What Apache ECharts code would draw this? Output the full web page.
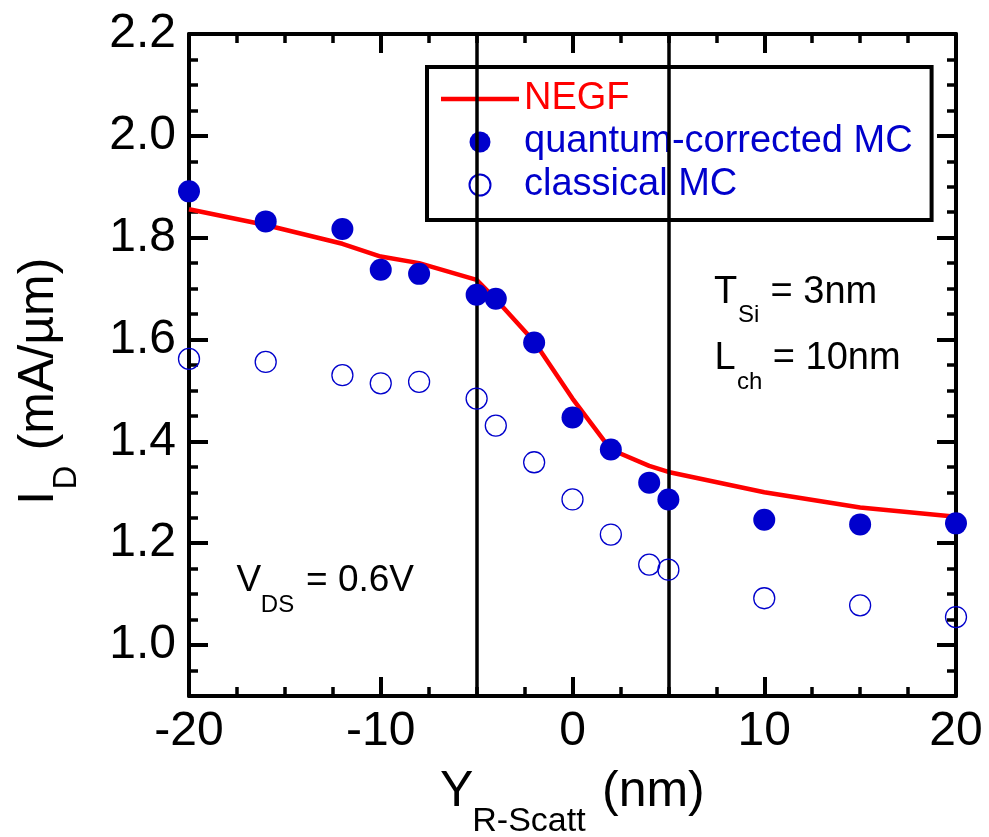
<!DOCTYPE html>
<html>
<head>
<meta charset="utf-8">
<script src="https://cdn.jsdelivr.net/npm/echarts@6/dist/echarts.min.js"></script>
<style>
html,body{margin:0;padding:0;background:#fff;}
#chart{width:989px;height:837px;}
</style>
</head>
<body>
<div id="chart"></div>
<script>
// ---- data ----
var xNegf = [-20, -16, -12, -10, -8, -5, -4, -2, 0, 2, 4, 5, 10, 15, 20];
var negf = [1.856, 1.825, 1.788, 1.763, 1.750, 1.717, 1.679, 1.596, 1.484, 1.384, 1.352, 1.340, 1.300, 1.270, 1.252];
var xMC = [-20, -16, -12, -10, -8, -5, -4, -2, 0, 2, 4, 5, 10, 15, 20];
var quantumMC = [1.891, 1.832, 1.817, 1.737, 1.729, 1.688, 1.680, 1.594, 1.447, 1.384, 1.319, 1.286, 1.246, 1.237, 1.239];
var classicalMC = [1.562, 1.556, 1.530, 1.514, 1.517, 1.484, 1.431, 1.359, 1.286, 1.217, 1.158, 1.148, 1.092, 1.078, 1.055];
var yMajorTicks = [1.0, 1.2, 1.4, 1.6, 1.8, 2.0, 2.2];
var vLines = [-5, 5];
var seriesNames = ['NEGF', 'quantum-corrected MC', 'classical MC'];

function pairs(xs, ys) { return xs.map(function (x, i) { return [x, ys[i]]; }); }

var FONT = "'Liberation Sans', Arial, Helvetica, sans-serif";
var BLUE = '#0000CC';
var RED = '#FF0000';

var chart = echarts.init(document.getElementById('chart'), null, {renderer: 'canvas'});

function yMajor(pos, showLabel) {
  return {
    type: 'value', position: pos, min: 0.9, max: 2.2,
    axisLine: {show: true, onZero: false, lineStyle: {color: '#000', width: 4}},
    axisTick: {show: true, inside: true, length: 19, lineStyle: {color: '#000', width: 4}, customValues: yMajorTicks},
    axisLabel: {show: showLabel, customValues: yMajorTicks, margin: 13, fontSize: 48, color: '#000', fontFamily: FONT,
      padding: [0, 0, 10, 0],
      formatter: function (v) { return v.toFixed(1); }},
    splitLine: {show: false}
  };
}
function yMinor(pos) {
  return {
    type: 'value', position: pos, min: 0.9, max: 2.2, interval: 0.05,
    axisLine: {show: false, onZero: false},
    axisTick: {show: true, inside: true, length: 9, lineStyle: {color: '#000', width: 3.5}},
    axisLabel: {show: false},
    splitLine: {show: false}
  };
}
function xAx(pos, showLabel) {
  return {
    type: 'value', position: pos, min: -20, max: 20, interval: 10,
    axisLine: {show: true, onZero: false, lineStyle: {color: '#000', width: 4}},
    axisTick: {show: true, inside: true, length: 19, lineStyle: {color: '#000', width: 4}},
    minorTick: {show: true, splitNumber: 4, length: 9, lineStyle: {color: '#000', width: 3.5}},
    axisLabel: {show: showLabel, margin: 12, fontSize: 48, color: '#000', fontFamily: FONT},
    splitLine: {show: false}, minorSplitLine: {show: false}
  };
}

function txt(x, y, s, size, extra) {
  var o = {type: 'text', x: x, y: y, silent: true,
    style: {text: s, fontSize: size, fontFamily: FONT, fill: '#000', align: 'left', verticalAlign: 'middle'}};
  if (extra) for (var k in extra) o[k] = extra[k];
  return o;
}

var option = {
  animation: false,
  backgroundColor: '#fff',
  grid: {left: 189, right: 33, top: 34, bottom: 141, containLabel: false},
  xAxis: [xAx('bottom', true), xAx('top', false)],
  yAxis: [yMajor('left', true), yMinor('left'), yMajor('right', false), yMinor('right')],
  legend: {
    orient: 'vertical', left: 427, top: 67,
    itemWidth: 78, itemHeight: 21, itemGap: 5,
    padding: [13, 19, 16, 14],
    borderColor: '#000', borderWidth: 4, backgroundColor: '#fff',
    textStyle: {fontSize: 38, lineHeight: 38, fontFamily: FONT},
    data: [
      {name: seriesNames[0], icon: 'path://M0 0H100V6H0Z', textStyle: {color: RED}},
      {name: seriesNames[1], textStyle: {color: BLUE}},
      {name: seriesNames[2], textStyle: {color: BLUE}}
    ]
  },
  series: [
    {
      name: seriesNames[0], type: 'line', data: pairs(xNegf, negf),
      symbol: 'none', lineStyle: {color: RED, width: 4.5}, itemStyle: {color: RED}, z: 3,
      markLine: {
        silent: true, symbol: ['none', 'none'], label: {show: false},
        lineStyle: {color: '#000', width: 3.5, type: 'solid'},
        emphasis: {disabled: true},
        data: vLines.map(function (v) { return {xAxis: v}; })
      }
    },
    {
      name: seriesNames[1], type: 'scatter', data: pairs(xMC, quantumMC),
      symbol: 'circle', symbolSize: 22, itemStyle: {color: BLUE, opacity: 1}, z: 5
    },
    {
      name: seriesNames[2], type: 'scatter', data: pairs(xMC, classicalMC),
      symbol: 'circle', symbolSize: 21,
      itemStyle: {color: 'rgba(255,255,255,0)', borderColor: BLUE, borderWidth: 1.3, opacity: 1}, z: 5
    }
  ],
  graphic: [
    txt(714, 292.2, 'T', 38), txt(738, 315.6, 'Si', 24), txt(770.5, 292.2, '= 3nm', 38),
    txt(714.5, 358.2, 'L', 38), txt(737, 382.6, 'ch', 24), txt(772.8, 358.2, '= 10nm', 38),
    txt(236.5, 581.2, 'V', 37), txt(260.8, 605.3, 'DS', 24), txt(306, 581.2, '= 0.6V', 37),
    txt(440, 792.5, 'Y', 50), txt(472.3, 822, 'R-Scatt', 34), txt(602, 792.5, '(nm)', 50),
    {
      type: 'group', x: 55, y: 500, rotation: Math.PI / 2, silent: true,
      children: [
        txt(-4.7, -15.5, 'I', 50),
        txt(10.4, 11.8, 'D', 33),
        txt(49.7, -15.5, '(mA/\u00B5m)', 50)
      ]
    }
  ]
};
chart.setOption(option);
</script>
</body>
</html>
